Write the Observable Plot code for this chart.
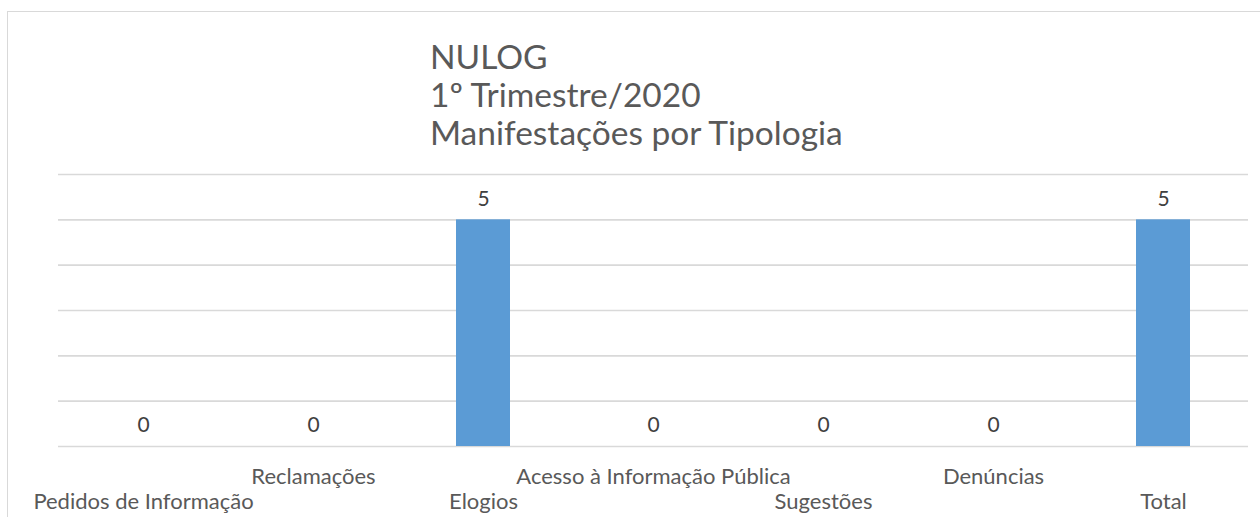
<!DOCTYPE html>
<html><head><meta charset="utf-8">
<script src="https://cdn.jsdelivr.net/npm/d3@7"></script>
<script src="https://cdn.jsdelivr.net/npm/@observablehq/plot@0.6"></script>
<style>
body{margin:0;background:#fff;width:1260px;height:517px;overflow:hidden;position:relative;font-family:Lato,"Open Sans",sans-serif;}
#frame{position:absolute;left:7px;top:11px;width:1400px;height:700px;border:1.5px solid #d9d9d9;box-sizing:border-box;}
#title{position:absolute;left:430px;top:37px;font-size:33.5px;line-height:38px;color:#595959;white-space:nowrap;}
#chart{position:absolute;left:0;top:0;}
</style></head>
<body>
<div id="frame"></div>
<div id="chart"></div>
<div id="title">NULOG<br>1º Trimestre/2020<br>Manifestações por Tipologia</div>
<script>
const categories = ["Pedidos de Informação","Reclamações","Elogios","Acesso à Informação Pública","Sugestões","Denúncias","Total"];
const values = [0,0,5,0,0,0,5];
const gridTicks = [0,1,2,3,4,5,6];

const data = categories.map((c,i)=>({cat:c, value:values[i], row:i%2}));
const chart = Plot.plot({
  width:1260, height:517,
  marginLeft:58, marginRight:12, marginTop:174, marginBottom:71,
  style:{fontFamily:"Lato, 'Open Sans', sans-serif", background:"transparent"},
  x:{domain:categories, paddingInner:0.68, paddingOuter:0.34, axis:null},
  y:{domain:[0,6], axis:null},
  marks:[
    Plot.ruleY(gridTicks, {stroke:"#d9d9d9", strokeWidth:1.6}),
    Plot.barY(data, {x:"cat", y:"value", fill:"#5b9bd5"}),
    Plot.text(data, {x:"cat", y:"value", text:d=>String(d.value), dy:-21, lineAnchor:"middle", fontSize:21, fill:"#404040"}),
    Plot.text(data.filter(d=>d.row===1), {x:"cat", y:0, text:"cat", dy:30, lineAnchor:"middle", fontSize:22, fill:"#595959"}),
    Plot.text(data.filter(d=>d.row===0), {x:"cat", y:0, text:"cat", dy:55, lineAnchor:"middle", fontSize:22, fill:"#595959"})
  ]
});
document.getElementById("chart").appendChild(chart);
</script>
</body></html>
